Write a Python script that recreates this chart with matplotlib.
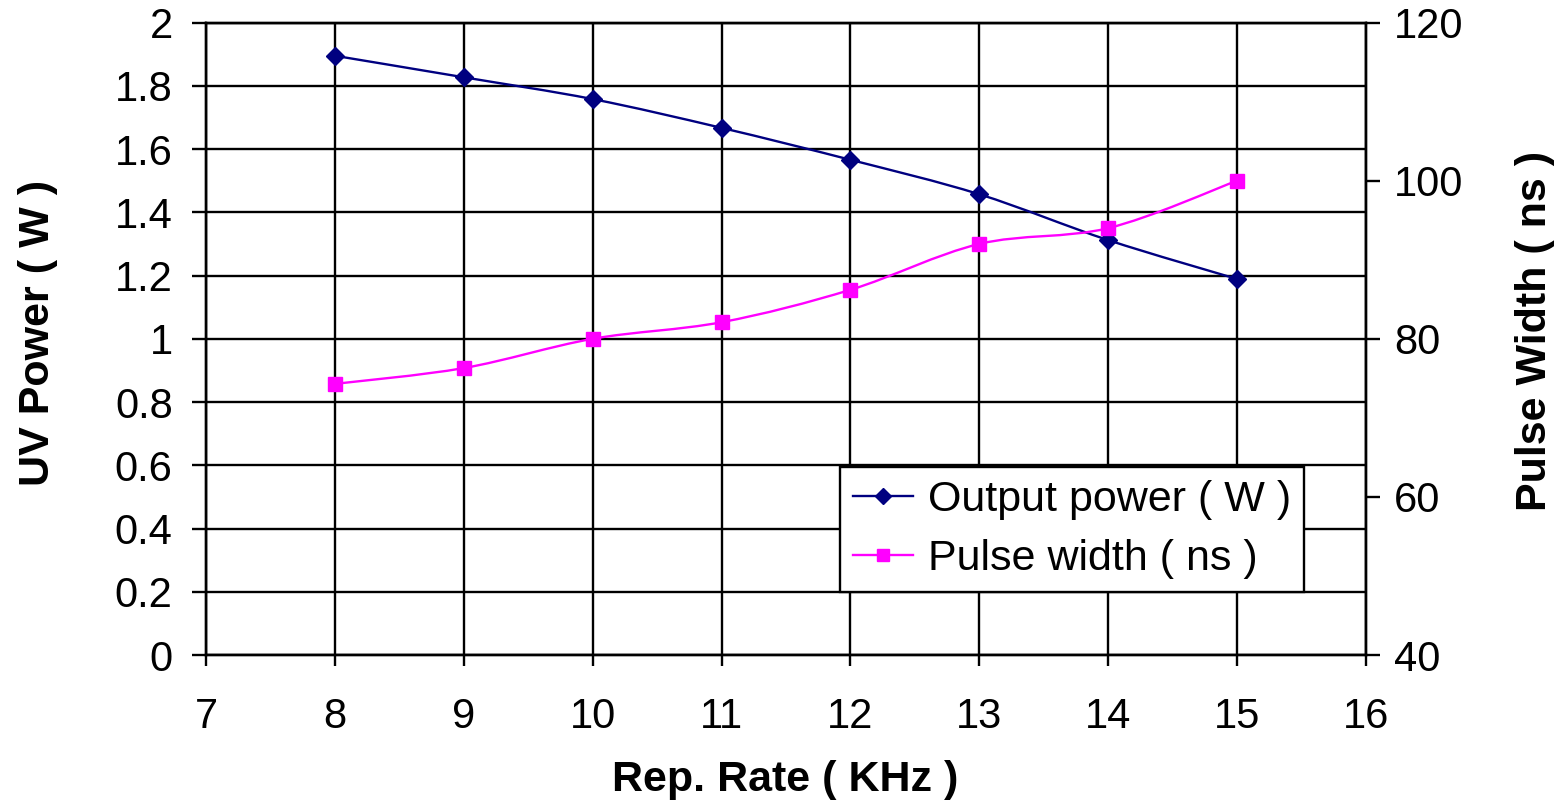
import numpy as np
import matplotlib.pyplot as plt
from matplotlib.path import Path
from matplotlib.patches import PathPatch
from matplotlib.lines import Line2D

plt.rcParams['font.family'] = ['Liberation Sans', 'DejaVu Sans']

# data
rep_rate = [8, 9, 10, 11, 12, 13, 14, 15]
uv_power = [1.895, 1.827, 1.758, 1.667, 1.566, 1.457, 1.312, 1.189]
pulse_width = [74.3, 76.3, 80.0, 82.1, 86.2, 92.0, 94.0, 100.0]

power_color = '#000080'
pulse_color = '#FF00FF'


def smooth_path(x, y):
    # Excel-style smoothed line: cubic bezier, control points at 1/6 of neighbour chord
    pts = np.column_stack([x, y]).astype(float)
    n = len(pts)
    verts = [pts[0]]
    codes = [Path.MOVETO]
    for i in range(n - 1):
        p0 = pts[max(i - 1, 0)]
        p1 = pts[i]
        p2 = pts[i + 1]
        p3 = pts[min(i + 2, n - 1)]
        c1 = p1 + (p2 - p0) / 6.0
        c2 = p2 - (p3 - p1) / 6.0
        verts += [c1, c2, p2]
        codes += [Path.CURVE4] * 3
    return Path(verts, codes)


fig = plt.figure(figsize=(15.68, 8.06), dpi=100)
ax = fig.add_axes([0.1314, 0.1873, 0.7398, 0.7847])
ax2 = ax.twinx()

# power curve
ax.add_patch(PathPatch(smooth_path(rep_rate, uv_power), fill=False,
                       edgecolor=power_color, lw=1.7, zorder=3))
ax.plot(rep_rate, uv_power, ls='none', marker='D', ms=9.5, color=power_color, zorder=4)

# pulse width curve
ax2.add_patch(PathPatch(smooth_path(rep_rate, pulse_width), fill=False,
                        edgecolor=pulse_color, lw=1.7, zorder=3))
ax2.plot(rep_rate, pulse_width, ls='none', marker='s', ms=10, color=pulse_color, zorder=4)

ax.set_xlim(7, 16)
ax.set_ylim(0, 2)
ax.set_xticks(range(7, 17))
ax.set_yticks(np.arange(0, 2.01, 0.2))
ax.set_yticklabels(['0', '0.2', '0.4', '0.6', '0.8', '1', '1.2', '1.4', '1.6', '1.8', '2'])
ax2.set_ylim(40, 120)
ax2.set_yticks([40, 60, 80, 100, 120])

ax.grid(True, color='black', lw=1.7)
ax.set_axisbelow(True)
for a in (ax, ax2):
    for s in a.spines.values():
        s.set_linewidth(1.7)
        s.set_color('black')

ax.tick_params(axis='y', direction='out', length=10, width=1.7, pad=14, labelsize=30)
ax.tick_params(axis='x', direction='out', length=8, width=1.7, pad=22, labelsize=30)
ax2.tick_params(axis='y', direction='out', length=10, width=1.7, pad=10, labelsize=30)

fig.text(0.501, 0.0323, 'Rep. Rate ( KHz )', fontsize=31, fontweight='bold',
         ha='center', va='center')
fig.text(0.0242, 0.587, 'UV Power ( W )', fontsize=31, fontweight='bold',
         ha='center', va='center', rotation=90)
fig.text(0.979, 0.589, 'Pulse Width ( ns )', fontsize=31, fontweight='bold',
         ha='center', va='center', rotation=90)

handles = [
    Line2D([], [], color=power_color, lw=1.7, marker='D', ms=8),
    Line2D([], [], color=pulse_color, lw=1.7, marker='s', ms=8),
]
leg = ax2.legend(handles, ['Output power ( W )', 'Pulse width ( ns )'],
                 loc='lower left', bbox_to_anchor=(0.5466, 0.0996), borderaxespad=0,
                 fontsize=31, fancybox=False, framealpha=1, edgecolor='black',
                 handlelength=1.4, handletextpad=0.35, borderpad=0.3, labelspacing=0.45)
leg.get_frame().set_linewidth(1.7)

fig.savefig('out.png', dpi=100)
